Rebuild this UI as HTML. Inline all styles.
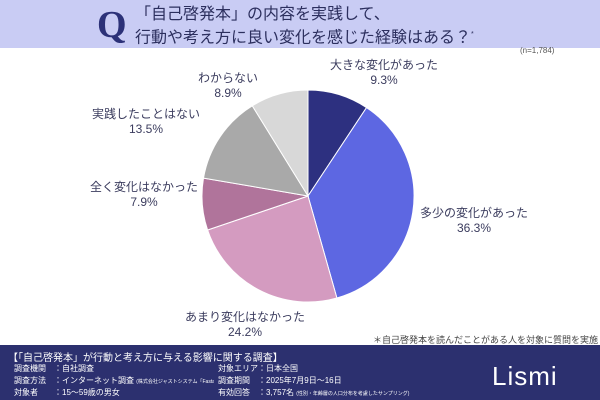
<!DOCTYPE html>
<html><head><meta charset="utf-8"><style>
body{margin:0;width:600px;height:400px;overflow:hidden;background:#fff;font-family:"Liberation Sans","Noto Sans CJK JP",sans-serif;position:relative;color:#33345a}
.hdr{position:absolute;left:0;top:0;width:600px;height:48px;background:#c9ccf4}
.q{position:absolute;left:97px;top:5px;font-family:"Liberation Serif",serif;font-size:38px;font-weight:bold;color:#2c3178;line-height:40px}
.t{position:absolute;left:135px;top:5px;font-size:16px;line-height:20px;color:#2c2f5e}
.lab{position:absolute;font-size:12px;line-height:15px;text-align:center;white-space:nowrap;color:#3b3c5e}
.ftr{position:absolute;left:0;top:345px;width:600px;height:55px;background:#2c306f;color:#fff}
.ftr div{position:absolute;font-size:8px;white-space:nowrap}
</style></head><body>
<div class="hdr"></div>
<div class="q">Q</div>
<div class="t">「自己啓発本」の内容を実践して、<br>行動や考え方に良い変化を感じた経験はある？<sup style="font-size:7px">*</sup></div>
<div style="position:absolute;left:520px;top:46px;font-size:8px;color:#555">(n=1,784)</div>
<svg width="600" height="400" style="position:absolute;left:0;top:0">
<g stroke="#fff" stroke-width="1">
<path d="M308,196 L308,90 A106,106 0 0 1 366.5,107.6Z" fill="#2d3080"/>
<path d="M308,196 L366.5,107.6 A106,106 0 0 1 336.9,298Z" fill="#5d67e2"/>
<path d="M308,196 L336.9,298 A106,106 0 0 1 207.6,230Z" fill="#d49bc0"/>
<path d="M308,196 L207.6,230 A106,106 0 0 1 203.5,178.1Z" fill="#b0749b"/>
<path d="M308,196 L203.5,178.1 A106,106 0 0 1 252.3,105.8Z" fill="#a9a9a9"/>
<path d="M308,196 L252.3,105.8 A106,106 0 0 1 308,90Z" fill="#d8d8d8"/>
</g></svg>
<div class="lab" style="left:330px;top:58px">大きな変化があった<br>9.3%</div>
<div class="lab" style="left:420px;top:206px">多少の変化があった<br>36.3%</div>
<div class="lab" style="left:185px;top:310px">あまり変化はなかった<br>24.2%</div>
<div class="lab" style="left:90px;top:180px">全く変化はなかった<br>7.9%</div>
<div class="lab" style="left:92px;top:107px">実践したことはない<br>13.5%</div>
<div class="lab" style="left:198px;top:71px">わからない<br>8.9%</div>
<div style="position:absolute;left:373px;top:333px;font-size:9px;color:#444">＊自己啓発本を読んだことがある人を対象に質問を実施</div>
<div class="ftr">
<div style="left:8px;top:4px;font-size:10px">【「自己啓発本」が行動と考え方に与える影響に関する調査】</div>
<div style="left:14px;top:18px">調査機関　：自社調査</div>
<div style="left:14px;top:30px;width:200px;overflow:hidden">調査方法　：インターネット調査 <span style="font-size:5px">(株式会社ジャストシステム「Fastask」)</span></div>
<div style="left:14px;top:42px">対象者　　：15〜59歳の男女</div>
<div style="left:218px;top:18px">対象エリア：日本全国</div>
<div style="left:218px;top:30px">調査期間　：2025年7月9日〜16日</div>
<div style="left:218px;top:42px">有効回答　：3,757名 <span style="font-size:5px">(性別・年齢層の人口分布を考慮したサンプリング)</span></div>
<div style="left:492px;top:16px;font-size:26px;letter-spacing:1px">Lismi</div>
</div>
</body></html>
